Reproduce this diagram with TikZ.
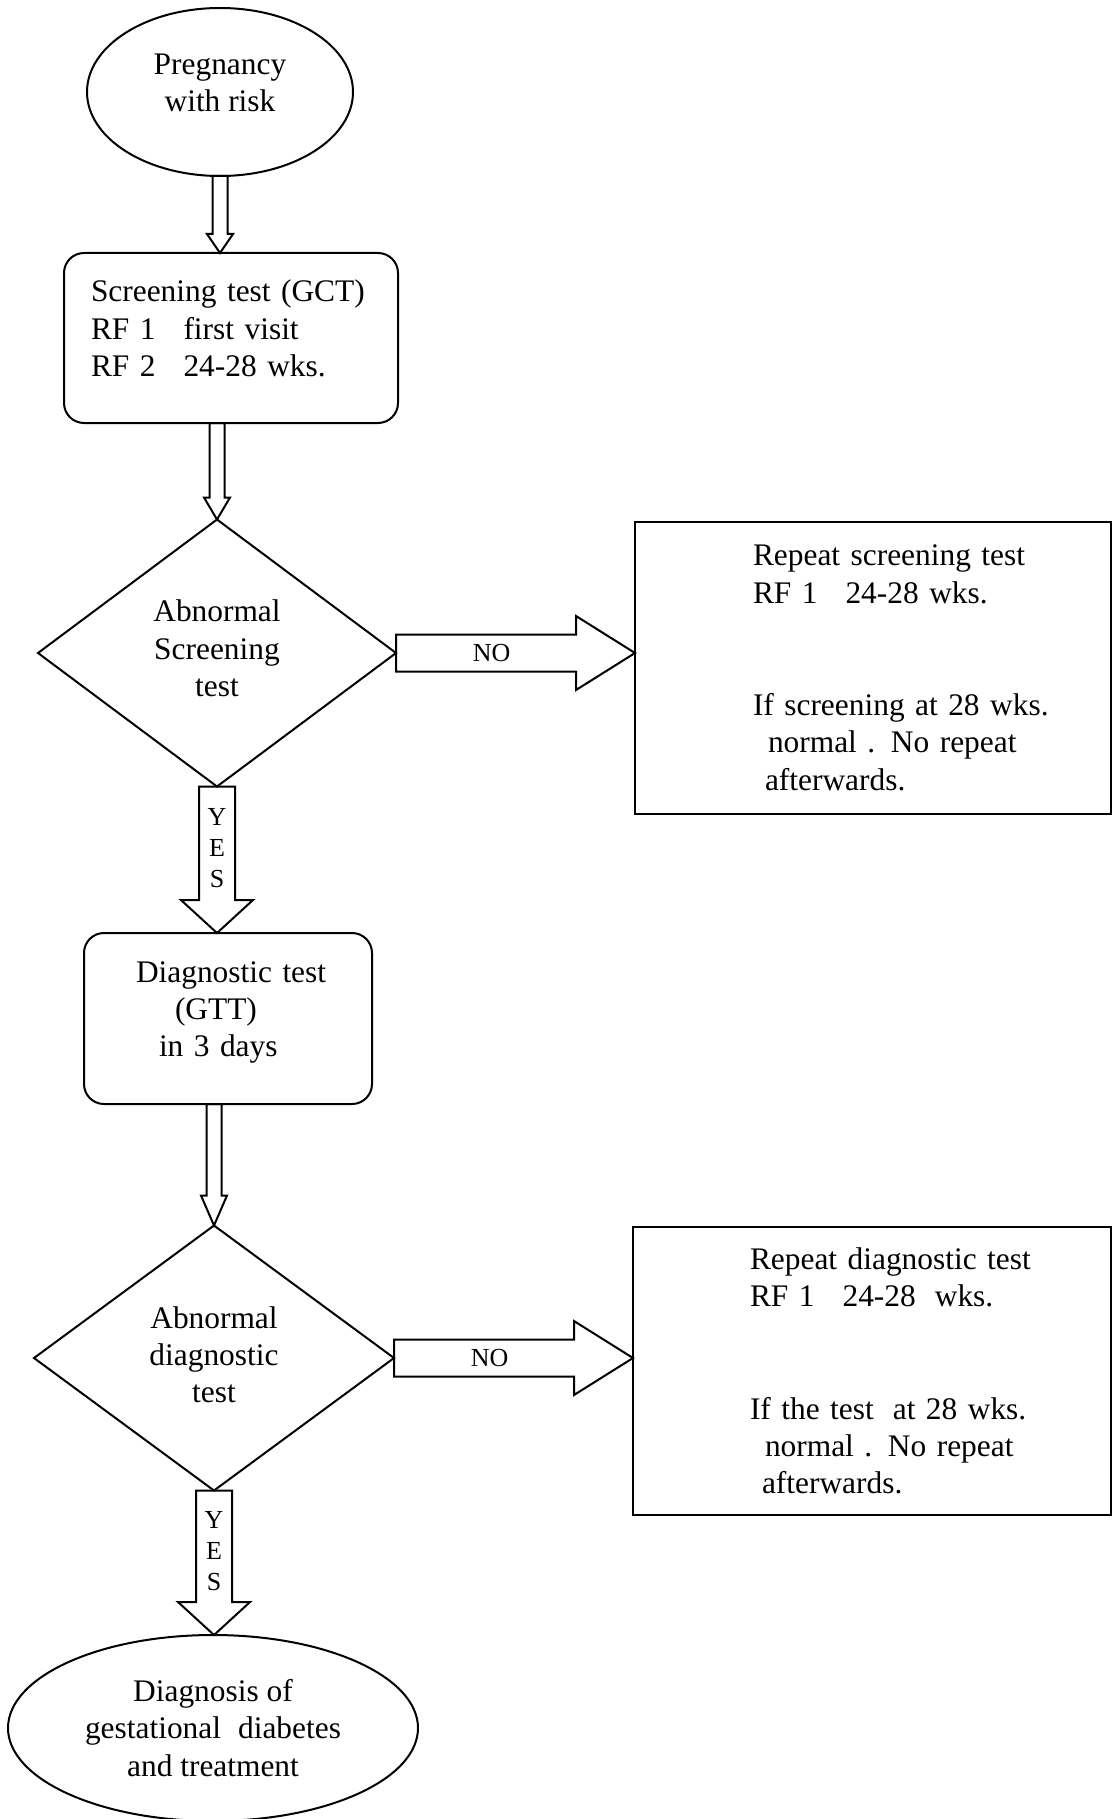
\documentclass[tikz,border=0pt]{standalone}
\usepackage{fontspec}
\setmainfont{Liberation Serif}
\usetikzlibrary{shapes.geometric,calc}
\newcommand{\fatdown}[5]{%
	\draw[fat] let \p1=(#1), \p2=(#2) in
		(\x1-#3,\y1) -- (\x1-#3,\y2+#5) -- (\x1-#4,\y2+#5) -- (\x1,\y2)
		-- (\x1+#4,\y2+#5) -- (\x1+#3,\y2+#5) -- (\x1+#3,\y1) -- cycle;}
\newcommand{\fatright}[2]{%
	\draw[fat] let \p1=(#1), \p2=(#2) in
		(\x1,\y1+9.25pt) -- (\x2-29.5pt,\y1+9.25pt) -- (\x2-29.5pt,\y1+18.5pt) -- (\x2,\y1)
		-- (\x2-29.5pt,\y1-18.5pt) -- (\x2-29.5pt,\y1-9.25pt) -- (\x1,\y1-9.25pt) -- cycle;}

\begin{document}
\begin{tikzpicture}[x=0.5pt,y=-0.5pt,line width=1pt]
			\tikzset{every node/.style={font=\fontsize{15.7}{18.7}\selectfont,inner sep=0pt,outer sep=0pt}}
			\tikzset{oval/.style={draw,ellipse,align=center}}
			\tikzset{choice/.style={draw,diamond,align=center}}
			\tikzset{roundbox/.style={draw,rectangle,rounded corners=10pt,align=left}}
			\tikzset{notebox/.style={draw,rectangle,align=left}}
			\tikzset{textshift/.style={execute at begin node={\leftskip=#1\relax}}}
			\tikzset{tag/.style={font=\fontsize{13}{15.5}\selectfont,align=center}}
			\tikzset{fat/.style={draw,line join=miter}}
			\useasboundingbox (0,0) rectangle (1112,1819);
			\node[oval,minimum width=133pt,minimum height=84pt,text depth=9pt] (start) at (220,92) {Pregnancy\\with risk};
			\node[roundbox,text width=167pt,minimum height=85pt,textshift=13.5pt,text depth=47.2pt] (screen) at (231,338)
				{Screening test (GCT)\\RF 1\hspace{14pt}first visit\\RF 2\hspace{14pt}24-28 wks.};
			\node[choice,minimum width=179pt,minimum height=133.5pt,text depth=4.6pt] (abn1) at (217,653) {Abnormal\\Screening\\test};
			\node[notebox,text width=238pt,minimum height=146pt,textshift=59pt] (rep1) at (873,668)
				{Repeat screening test\\RF 1\hspace{14pt}24-28 wks.\\[37.4pt]If screening at 28 wks.\\\hspace*{7.5pt}normal . No repeat\\\hspace*{6pt}afterwards.};
			\node[roundbox,text width=144pt,minimum height=85.5pt,textshift=26pt,text depth=46.8pt] (diag) at (228,1018.5)
				{Diagnostic test\\\hspace*{19.5pt}(GTT)\\\hspace*{11.5pt}in 3 days};
			\node[choice,minimum width=180pt,minimum height=132.5pt,text depth=3.4pt] (abn2) at (214,1358) {Abnormal\\diagnostic\\test};
			\node[notebox,text width=239pt,minimum height=144pt,textshift=58.5pt] (rep2) at (872,1371)
				{Repeat diagnostic test\\RF 1\hspace{14pt}24-28\hspace{9.5pt}wks.\\[37.4pt]If the test\hspace{9.5pt}at 28 wks.\\\hspace*{7.5pt}normal . No repeat\\\hspace*{6pt}afterwards.};
			\node[oval,minimum width=205pt,minimum height=93pt] (treat) at (213,1728) {Diagnosis of\\gestational\hspace{8.5pt}diabetes\\and treatment};
			% hollow arrows
			\fatdown{start.south}{start.south |- screen.north}{3.75pt}{6.5pt}{9.5pt}
			\fatdown{abn1.north |- screen.south}{abn1.north}{3.75pt}{6.5pt}{11pt}
			\fatdown{abn1.south}{abn1.south |- diag.north}{9pt}{18pt}{16.5pt}
			\fatright{abn1.east}{abn1.east -| rep1.west}
			\fatdown{abn2.north |- diag.south}{abn2.north}{3.75pt}{6.5pt}{15pt}
			\fatdown{abn2.south}{abn2.south |- treat.north}{9pt}{18pt}{16.5pt}
			\fatright{abn2.east}{abn2.east -| rep2.west}
			\node[tag] (yes1) at ($(abn1.south)!0.42!(abn1.south |- diag.north)$) {Y\\E\\S};
			\node[tag] (no1) at ($(abn1.east)!0.4!(abn1.east -| rep1.west)$) {NO};
			\node[tag] (yes2) at ($(abn2.south)!0.42!(abn2.south |- treat.north)$) {Y\\E\\S};
			\node[tag] (no2) at ($(abn2.east)!0.4!(abn2.east -| rep2.west)$) {NO};
		\end{tikzpicture}
\end{document}
